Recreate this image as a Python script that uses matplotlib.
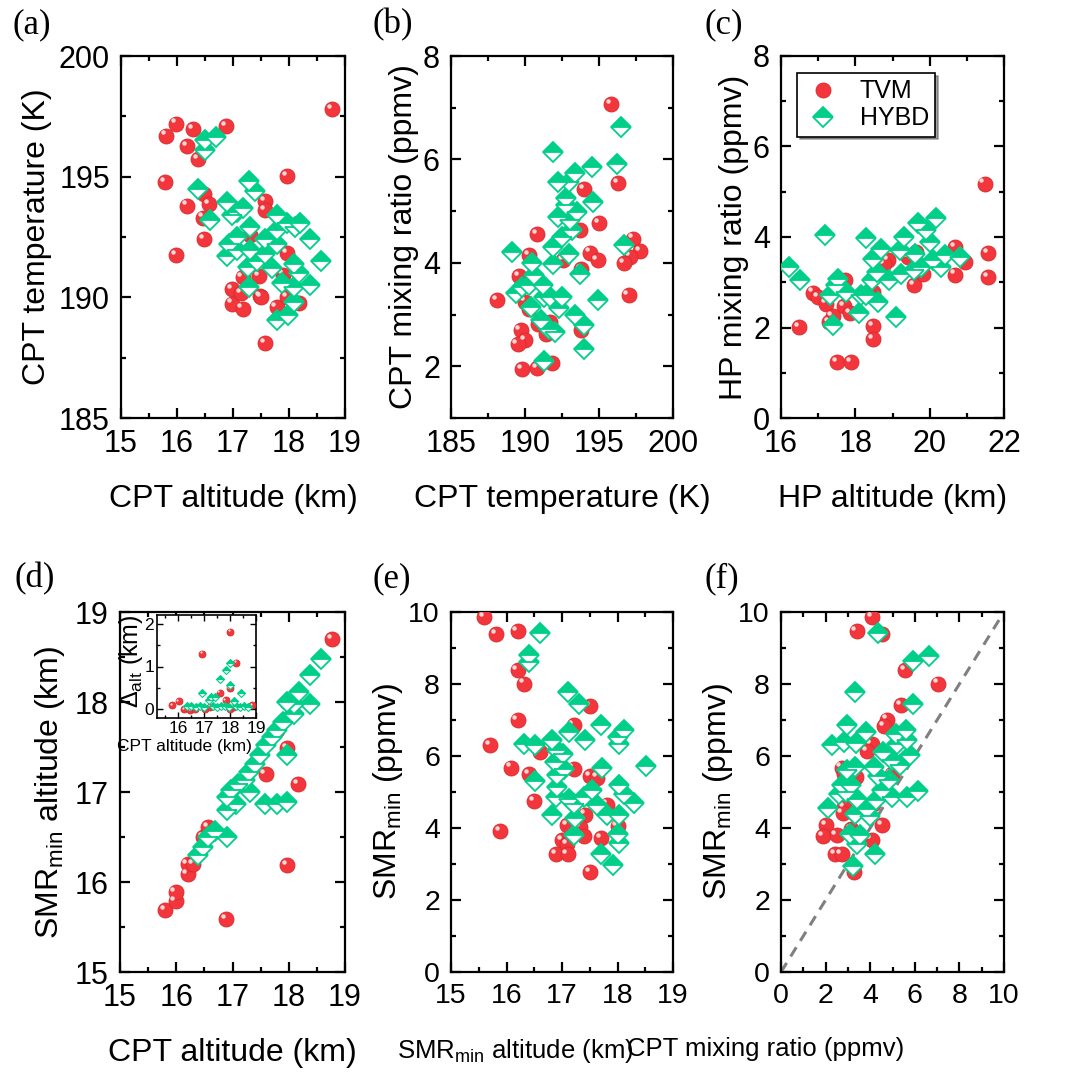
import matplotlib
matplotlib.use('Agg')
import matplotlib.pyplot as plt
import matplotlib.transforms as mtransforms
from matplotlib.ticker import MultipleLocator
import numpy as np

plt.rcParams['font.family'] = ['Liberation Sans', 'DejaVu Sans']
plt.rcParams['mathtext.fontset'] = 'custom'
plt.rcParams['mathtext.rm'] = 'Liberation Sans'
plt.rcParams['mathtext.it'] = 'Liberation Sans:italic'

RED = '#F2363C'
RED_EDGE = '#D82A2E'
GREEN = '#00CF8A'

# ---------------- data ----------------
# (a) CPT altitude (km) vs CPT temperature (K)
a_tvm_x = [18.77, 15.98, 15.80, 16.29, 16.88, 16.18, 16.37, 15.79, 17.97, 16.48, 16.18, 16.58,
           16.47, 16.48, 15.98, 17.58, 17.58, 17.30, 17.96, 17.17, 17.47, 17.89, 16.98, 16.98,
           17.17, 17.15, 17.48, 17.50, 17.78, 17.97, 18.18, 17.58]
a_tvm_y = [197.8, 197.2, 196.7, 196.96, 197.1, 196.27, 195.73, 194.79, 195.02, 194.3, 193.8, 193.86,
           193.3, 192.4, 191.75, 194.0, 193.6, 192.6, 191.84, 190.85, 190.87, 190.94, 190.34, 189.74,
           189.53, 190.16, 190.06, 190.0, 189.6, 190.0, 189.77, 188.11]
a_hybd_x = [16.50, 16.70, 16.50, 16.38, 16.59, 16.89, 17.07, 17.18, 16.98, 17.29, 17.39, 17.30,
            17.07, 16.93, 16.89, 17.07, 17.30, 17.27, 17.42, 17.57, 17.57, 17.78, 17.78, 17.78,
            17.96, 18.10, 18.20, 17.69, 17.87, 18.09, 18.18, 18.09, 18.38, 18.38, 18.57, 17.29,
            18.09, 17.78, 17.99]
a_hybd_y = [196.5, 196.65, 196.1, 194.48, 193.2, 193.96, 193.54, 193.7, 193.4, 194.8, 194.4, 192.9,
            192.5, 192.2, 191.7, 191.95, 191.95, 191.26, 191.5, 191.8, 192.4, 192.8, 192.2, 193.4,
            193.06, 192.9, 193.06, 191.2, 190.6, 191.4, 191.0, 190.43, 192.4, 190.5, 191.5, 190.43,
            189.8, 189.05, 189.26]

# (b) CPT temperature (K) vs CPT mixing ratio (ppmv)
b_tvm_x = [195.8, 196.3, 194.0, 195.0, 190.8, 193.7, 197.3, 197.8, 197.1, 196.7, 194.4, 194.9,
           190.3, 192.6, 193.8, 189.6, 188.1, 190.0, 190.3, 197.0, 190.9, 191.7, 189.7, 190.0,
           189.5, 193.8, 189.8, 190.8, 191.8, 191.4]
b_tvm_y = [7.07, 5.55, 5.43, 4.77, 4.55, 4.63, 4.47, 4.23, 4.12, 4.00, 4.20, 4.06,
           4.15, 4.05, 3.88, 3.75, 3.28, 3.25, 3.10, 3.37, 2.81, 2.86, 2.70, 2.50,
           2.43, 2.71, 1.94, 1.97, 2.06, 2.63]
b_hybd_x = [196.5, 191.9, 196.2, 194.5, 193.4, 193.0, 192.2, 192.8, 194.6, 192.8, 193.5, 192.2,
            193.05, 193.2, 192.5, 191.9, 196.7, 189.1, 193.0, 191.9, 190.5, 193.7, 190.6, 189.4,
            189.8, 190.3, 191.2, 191.3, 191.7, 192.5, 192.3, 190.4, 194.9, 193.4, 194.0, 191.1,
            191.6, 192.0, 194.0, 191.3]
b_hybd_y = [6.63, 6.15, 5.92, 5.86, 5.74, 5.57, 5.57, 5.25, 5.18, 5.12, 4.99, 4.89,
            4.83, 4.63, 4.50, 4.31, 4.34, 4.21, 4.18, 3.97, 3.99, 3.79, 3.76, 3.41,
            3.54, 3.57, 3.57, 3.34, 3.34, 3.34, 3.12, 3.15, 3.28, 2.99, 2.79, 2.90,
            2.73, 2.66, 2.34, 2.10]

# (c) HP altitude (km) vs HP mixing ratio (ppmv)
c_tvm_x = [21.48, 21.57, 21.57, 20.69, 20.69, 20.94, 19.58, 19.69, 19.42, 19.82, 18.88, 18.77,
           16.87, 17.00, 17.21, 17.72, 17.69, 17.85, 17.39, 17.30, 16.49, 18.48, 18.48, 17.50,
           17.88, 18.48, 19.64]
c_tvm_y = [5.18, 3.65, 3.12, 3.78, 3.17, 3.45, 2.93, 3.41, 3.56, 3.19, 3.49, 3.41,
           2.77, 2.68, 2.53, 3.04, 2.47, 2.31, 2.25, 2.12, 2.01, 2.03, 1.75, 1.24,
           1.24, 2.79, 3.67]
c_hybd_x = [16.21, 16.51, 17.18, 17.32, 17.54, 17.48, 17.75, 17.41, 18.10, 18.14, 18.30, 18.61,
            18.30, 18.70, 18.48, 18.44, 18.59, 18.91, 19.10, 19.20, 19.32, 19.22, 19.60, 19.69,
            19.91, 20.02, 19.78, 20.18, 20.09, 20.40, 20.31, 20.81, 19.57]
c_hybd_y = [3.34, 3.04, 4.04, 2.71, 3.08, 2.93, 2.79, 2.05, 2.31, 2.71, 2.71, 2.56,
            3.97, 3.74, 3.52, 3.04, 3.23, 3.06, 2.23, 3.71, 4.00, 3.19, 3.63, 4.30,
            4.15, 3.89, 3.34, 4.41, 3.49, 3.60, 3.34, 3.56, 3.27]

# (d) CPT altitude (km) vs SMRmin altitude (km)
d_tvm_x = [18.77, 17.97, 17.59, 18.17, 17.97, 16.88, 15.80, 15.99, 15.99, 16.20, 16.20, 16.30,
           16.48, 16.57, 16.96, 17.79, 17.96]
d_tvm_y = [18.70, 17.49, 17.20, 17.09, 16.19, 15.59, 15.69, 15.79, 15.89, 16.09, 16.20, 16.20,
           16.50, 16.61, 17.00, 17.69, 18.00]
d_hybd_x = [18.57, 18.38, 18.19, 18.38, 18.09, 17.97, 18.09, 17.89, 17.79, 17.70, 17.60, 17.97,
            17.49, 17.40, 17.30, 17.22, 17.31, 17.10, 16.98, 17.07, 16.90, 16.90, 17.58, 17.79,
            17.97, 16.90, 16.69, 16.57, 16.48, 16.39]
d_hybd_y = [18.48, 18.30, 18.11, 17.98, 17.98, 18.00, 17.87, 17.78, 17.69, 17.61, 17.52, 17.41,
            17.41, 17.31, 17.22, 17.13, 17.00, 17.09, 17.02, 16.87, 16.94, 16.80, 16.87, 16.87,
            16.89, 16.50, 16.57, 16.50, 16.39, 16.30]

# (d) inset: CPT altitude (km) vs altitude difference (km)
ins_tvm_x = [18.02, 16.93, 18.24, 17.99, 17.61, 17.83, 18.85, 15.78, 16.03, 16.25, 16.48, 16.67,
             17.06, 17.25, 18.02, 18.15]
ins_tvm_y = [1.81, 1.30, 1.09, 0.49, 0.39, 0.22, 0.10, 0.10, 0.19, 0.00, -0.02, 0.00,
             0.00, 0.06, 0.02, 0.06]
ins_hybd_x = [18.02, 17.83, 17.61, 18.02, 16.93, 18.43, 17.28, 17.44, 18.15, 17.19,
              16.35, 16.50, 16.70, 16.85, 17.00, 17.35, 17.50, 17.65, 17.80, 17.95, 18.25,
              18.40, 18.55, 18.70]
ins_hybd_y = [1.08, 0.91, 0.70, 0.58, 0.39, 0.39, 0.29, 0.30, 0.20, 0.22,
              0.07, 0.07, 0.06, 0.08, 0.05, 0.07, 0.06, 0.08, 0.07, 0.06, 0.07,
              0.06, 0.07, 0.06]

# (e) SMRmin altitude (km) vs SMRmin (ppmv)
e_tvm_x = [15.60, 15.81, 16.20, 16.20, 16.31, 16.20, 15.70, 17.51, 17.21, 16.61, 16.09, 16.40,
           17.21, 17.50, 17.63, 16.50, 17.81, 17.42, 15.88, 17.09, 17.32, 17.39, 17.71, 18.00,
           17.00, 17.09, 16.89, 17.10, 17.50]
e_tvm_y = [9.86, 9.38, 9.47, 8.38, 8.01, 6.99, 6.30, 7.39, 6.85, 6.11, 5.68, 5.49,
           5.65, 5.44, 5.40, 4.74, 4.65, 4.37, 3.92, 4.07, 4.03, 3.78, 3.73, 4.05,
           3.66, 3.56, 3.27, 3.27, 2.78]
e_hybd_x = [16.61, 16.40, 16.40, 17.10, 17.31, 17.71, 18.11, 18.01, 18.02, 17.12, 17.41, 16.82,
            16.32, 16.52, 16.91, 17.02, 16.88, 17.03, 17.72, 18.52, 16.91, 16.52, 16.91, 16.89,
            17.12, 17.39, 17.54, 17.63, 18.02, 18.11, 18.30, 17.21, 16.82, 17.23, 17.81, 18.03,
            17.22, 18.01, 18.02, 17.71, 17.92]
e_hybd_y = [9.42, 8.81, 8.61, 7.78, 7.45, 6.85, 6.73, 6.53, 6.34, 6.67, 6.44, 6.44,
            6.34, 6.30, 6.16, 6.06, 5.83, 5.65, 5.68, 5.71, 5.46, 5.31, 5.14, 4.86,
            4.81, 4.86, 5.05, 4.63, 5.19, 4.94, 4.70, 4.66, 4.37, 4.29, 4.37, 4.35,
            3.80, 3.84, 3.58, 3.29, 2.96]

# (f) CPT mixing ratio (ppmv) vs SMRmin (ppmv)
f_tvm_x = [4.10, 3.39, 4.51, 5.55, 7.04, 5.40, 4.76, 4.61, 4.06, 3.87, 2.72, 2.82,
           3.36, 4.96, 2.82, 2.76, 2.01, 1.90, 2.49, 4.55, 4.06, 2.42, 2.72, 3.27,
           3.13, 4.13]
f_tvm_y = [9.86, 9.47, 9.38, 8.38, 8.01, 7.41, 7.01, 6.82, 6.34, 6.13, 5.68, 5.49,
           5.42, 5.49, 4.58, 4.42, 4.07, 3.77, 3.80, 4.09, 3.68, 3.27, 3.27, 2.78,
           3.97, 4.68]
f_hybd_x = [4.36, 5.93, 6.64, 3.31, 5.90, 2.97, 3.81, 2.27, 2.82, 3.36, 5.15, 5.60,
            5.18, 5.63, 4.58, 4.99, 5.33, 5.78, 3.31, 2.94, 4.16, 4.36, 4.85, 2.72,
            3.16, 2.61, 2.91, 3.42, 4.55, 4.96, 5.63, 6.15, 2.12, 3.31, 3.84, 4.25,
            3.99, 3.09, 3.54, 3.42, 4.21, 3.21]
f_hybd_y = [9.42, 8.64, 8.77, 7.78, 7.44, 6.85, 6.67, 6.30, 6.39, 6.36, 6.62, 6.73,
            6.34, 6.44, 6.11, 5.88, 5.74, 6.02, 5.69, 5.60, 5.69, 5.44, 5.32, 5.20,
            5.19, 4.95, 5.00, 4.81, 5.06, 4.86, 4.86, 5.02, 4.56, 4.40, 4.54, 4.77,
            4.32, 3.84, 3.80, 3.56, 3.27, 2.94]
one_to_one = [0, 10]


fig = plt.figure(figsize=(10.79, 10.75), dpi=100)


def add_axes(px_left, px_top, px_right, px_bottom):
    W, H = 1079.0, 1075.0
    return fig.add_axes([px_left / W, 1 - px_bottom / H,
                         (px_right - px_left) / W, (px_bottom - px_top) / H])


def spheres(ax, x, y, ms=10.8, hl=2.3, hs=3.2):
    ax.plot(x, y, ls='none', marker='o', ms=ms, mfc=RED, mec=RED_EDGE, mew=0.6, zorder=3)
    tr = mtransforms.offset_copy(ax.transData, fig=fig, x=-hl, y=hl, units='points')
    ax.plot(x, y, ls='none', marker='o', ms=hs, mfc='#FFD8D8', mec='none',
            transform=tr, zorder=3.1)


def diamonds(ax, x, y, ms=10.3, mew=1.3):
    ax.plot(x, y, ls='none', marker='D', ms=ms, fillstyle='top', mfc=GREEN,
            mfcalt='white', mec=GREEN, mew=mew, zorder=4)


def style(ax, xlim, ylim, xmaj, xmin, ymaj, ymin, fs=22):
    ax.set_xlim(*xlim)
    ax.set_ylim(*ylim)
    ax.xaxis.set_major_locator(MultipleLocator(xmaj))
    ax.xaxis.set_minor_locator(MultipleLocator(xmin))
    ax.yaxis.set_major_locator(MultipleLocator(ymaj))
    ax.yaxis.set_minor_locator(MultipleLocator(ymin))
    ax.tick_params(which='both', direction='in', top=True, right=True, width=1.6)
    ax.tick_params(which='major', length=7, labelsize=fs, pad=8)
    ax.tick_params(which='minor', length=3.5)
    for s in ax.spines.values():
        s.set_linewidth(1.6)


LFS = 23

# ---- (a)
ax = add_axes(121, 56, 345, 418)
spheres(ax, a_tvm_x, a_tvm_y)
diamonds(ax, a_hybd_x, a_hybd_y)
style(ax, (15, 19), (185, 200), 1, 0.5, 5, 2.5)
ax.set_xlabel('CPT altitude (km)', fontsize=LFS, labelpad=18)
ax.set_ylabel('CPT temperature (K)', fontsize=LFS, labelpad=5)

# ---- (b)
ax = add_axes(451, 56, 673, 418)
spheres(ax, b_tvm_x, b_tvm_y)
diamonds(ax, b_hybd_x, b_hybd_y)
style(ax, (185, 200), (1, 8), 5, 2.5, 2, 1)
ax.set_xlabel('CPT temperature (K)', fontsize=LFS, labelpad=18)
ax.set_ylabel('CPT mixing ratio (ppmv)', fontsize=LFS, labelpad=3)

# ---- (c)
ax = add_axes(781, 56, 1004, 418)
spheres(ax, c_tvm_x, c_tvm_y)
diamonds(ax, c_hybd_x, c_hybd_y)
style(ax, (16, 22), (0, 8), 2, 1, 2, 1)
ax.set_xlabel('HP altitude (km)', fontsize=LFS, labelpad=18)
ax.set_ylabel('HP mixing ratio (ppmv)', fontsize=LFS, labelpad=3)
h1, = ax.plot([], [], ls='none', marker='o', ms=10.8, mfc=RED, mec=RED_EDGE, mew=0.6)
h2, = ax.plot([], [], ls='none', marker='D', ms=10.3, fillstyle='top', mfc=GREEN,
              mfcalt='white', mec=GREEN, mew=1.3)
leg = ax.legend([h1, h2], ['TVM', 'HYBD'], loc='upper left', bbox_to_anchor=(0.072, 0.953),
                borderaxespad=0, fontsize=18, frameon=True, fancybox=False, shadow=True,
                edgecolor='black', framealpha=1, handletextpad=0.65, borderpad=0.25,
                labelspacing=0.12, handlelength=1.6)
leg.get_frame().set_linewidth(1.2)

# ---- (d)
ax = add_axes(120, 612, 345, 972)
spheres(ax, d_tvm_x, d_tvm_y)
diamonds(ax, d_hybd_x, d_hybd_y)
style(ax, (15, 19), (15, 19), 1, 0.5, 1, 0.5)
ax.set_xlabel('CPT altitude (km)', fontsize=LFS, labelpad=18)
ax.set_ylabel(r'SMR$_\mathregular{min}$ altitude (km)', fontsize=LFS, labelpad=6)

ins = add_axes(157, 615, 256, 718)
spheres(ins, ins_tvm_x, ins_tvm_y, ms=5, hl=1.0, hs=1.6)
diamonds(ins, ins_hybd_x, ins_hybd_y, ms=4.2, mew=0.8)
ins.set_xlim(15.2, 19)
ins.set_ylim(-0.2, 2.2)
ins.xaxis.set_major_locator(MultipleLocator(1))
ins.xaxis.set_minor_locator(MultipleLocator(0.5))
ins.yaxis.set_major_locator(MultipleLocator(1))
ins.yaxis.set_minor_locator(MultipleLocator(0.5))
ins.tick_params(which='both', direction='in', top=True, right=True, width=1)
ins.tick_params(which='major', length=4, labelsize=12.5, pad=2)
ins.tick_params(which='minor', length=2)
for s in ins.spines.values():
    s.set_linewidth(1.2)
ins.set_xlabel('CPT altitude (km)', fontsize=12.5)
ins.xaxis.set_label_coords(0.28, -0.2)
ins.set_ylabel(r'$\Delta_\mathregular{alt}$ (km)', fontsize=18)
ins.yaxis.set_label_coords(-0.12, 0.55)

# ---- (e)
ax = add_axes(451, 612, 673, 972)
spheres(ax, e_tvm_x, e_tvm_y)
diamonds(ax, e_hybd_x, e_hybd_y)
style(ax, (15, 19), (0, 10), 1, 0.5, 2, 1, fs=20.5)
ax.set_xlabel(r'SMR$_\mathregular{min}$ altitude (km)', fontsize=18.5)
ax.xaxis.set_label_coords(0.29, -0.18)
ax.set_ylabel(r'SMR$_\mathregular{min}$ (ppmv)', fontsize=LFS, labelpad=2)

# ---- (f)
ax = add_axes(781, 612, 1004, 972)
ax.plot(one_to_one, one_to_one, color='#808080', lw=2.2, dashes=(3.5, 2.5), zorder=2)
spheres(ax, f_tvm_x, f_tvm_y)
diamonds(ax, f_hybd_x, f_hybd_y)
style(ax, (0, 10), (0, 10), 2, 1, 2, 1, fs=20.5)
ax.set_xlabel('CPT mixing ratio (ppmv)', fontsize=18.5)
ax.xaxis.set_label_coords(-0.07, -0.18)
ax.set_ylabel(r'SMR$_\mathregular{min}$ (ppmv)', fontsize=LFS, labelpad=2)

# panel letters
for lab, px, py in [('(a)', 12, 8), ('(b)', 372, 8), ('(c)', 704, 8),
                    ('(d)', 14, 562), ('(e)', 372, 562), ('(f)', 704, 562)]:
    fig.text(px / 1079, 1 - py / 1075, lab, fontsize=25, family='Liberation Serif',
             ha='left', va='top')

plt.savefig('out.png', dpi=100)
